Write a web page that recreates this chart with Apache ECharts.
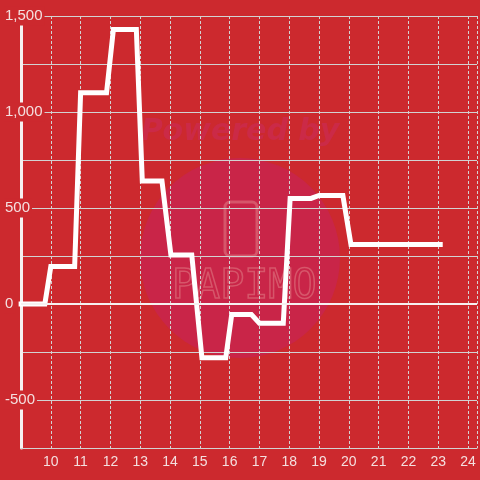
<!DOCTYPE html>
<html>
<head>
<meta charset="utf-8">
<style>
  html, body { margin: 0; padding: 0; background: #cc292e; }
  #chart { width: 480px; height: 480px; }
</style>
<script src="https://cdn.jsdelivr.net/npm/echarts@6/dist/echarts.min.js"></script>
</head>
<body>
<div id="chart"></div>
<script>
// step line points [hour, value]
const hours = [8.92, 9.8, 10.0, 10.8, 11.0, 11.87, 12.1, 12.87, 13.07, 13.73, 14.03, 14.73,
    15.07, 15.87, 16.07, 16.73, 17.0, 17.8, 18.03, 18.73, 19.0, 19.8, 20.07, 23.15]
const values = [0, 0, 195, 195, 1100, 1100, 1430, 1430, 640, 640, 255, 255,
    -280, -280, -55, -55, -100, -100, 550, 550, 565, 565, 310, 310]
const yLabels = [-500, 0, 500, 1000, 1500]
const xLabels = [10, 11, 12, 13, 14, 15, 16, 17, 18, 19, 20, 21, 22, 23, 24]

const bg = '#cc292e'
const labelColor = '#f4dfdf'
const gridColor = '#d2d2d2'

const chart = echarts.init(document.getElementById('chart'))

const points = hours.map((h, i) => [h, values[i]])

const option = {
    backgroundColor: bg,
    animation: false,
    graphic: [
        {type: 'circle', z: -10, shape: {cx: 240, cy: 258, r: 100}, style: {fill: '#c92548'}},
        {type: 'text', z: -10, left: 'center', top: 117, x: 6,
            style: {text: 'Powered by', fill: '#cb2a47', font: 'italic bold 30px "DejaVu Sans"'}},
        {type: 'rect', z: -9, shape: {x: 225, y: 202, width: 32, height: 54, r: 5},
            style: {fill: 'none', stroke: '#d6566a', lineWidth: 3}},
        {type: 'text', z: -9, x: 172, y: 268,
            style: {text: 'PAPIMO', fill: 'none', stroke: '#d6566a', lineWidth: 1.5,
                font: '40px "DejaVu Sans Mono"'}}
    ],
    grid: {left: 21, right: 0, top: 16, bottom: 32},
    xAxis: {
        type: 'value',
        min: 9,
        max: 24.3,
        interval: 1,
        axisLine: {onZero: false, lineStyle: {color: gridColor, width: 1}},
        axisTick: {show: false},
        splitLine: {show: true, lineStyle: {color: gridColor, width: 1, type: [3, 2]}},
        axisLabel: {
            color: labelColor,
            fontSize: 14,
            fontFamily: 'Liberation Sans',
            margin: 7,
            formatter: v => xLabels.includes(v) ? String(v) : ''
        }
    },
    yAxis: {
        type: 'value',
        min: -750,
        max: 1500,
        interval: 250,
        axisLine: {show: true, lineStyle: {color: '#f6f0f0', width: 3}},
        axisTick: {show: false},
        splitLine: {show: true, lineStyle: {color: gridColor, width: 1}},
        axisLabel: {
            align: 'left',
            margin: 17,
            color: labelColor,
            fontSize: 15,
            fontFamily: 'Liberation Sans',
            formatter: v => yLabels.includes(v) ? '{b|' + v.toLocaleString('en-US') + '}' : '',
            rich: {
                b: {backgroundColor: bg, padding: [2, 2, 2, 1], color: labelColor,
                    fontSize: 15, fontFamily: 'Liberation Sans'}
            }
        }
    },
    series: [{
        type: 'line',
        data: points,
        symbol: 'none',
        clip: false,
        lineStyle: {color: '#ffffff', width: 5, join: 'miter'},
        markLine: {
            silent: true,
            symbol: 'none',
            label: {show: false},
            lineStyle: {color: '#f6f0f0', width: 2, type: 'solid'},
            data: [{yAxis: 0}]
        }
    }]
}

chart.setOption(option)
</script>
</body>
</html>
